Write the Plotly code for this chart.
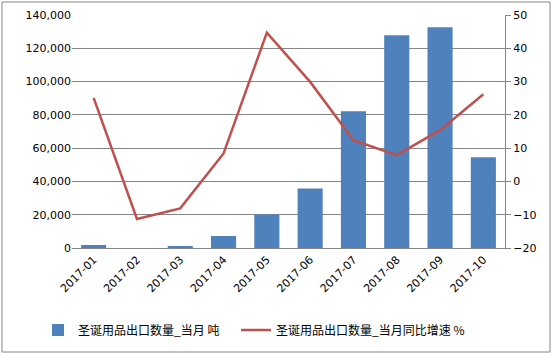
import plotly.graph_objects as go

months = ["2017-01", "2017-02", "2017-03", "2017-04", "2017-05",
          "2017-06", "2017-07", "2017-08", "2017-09", "2017-10"]
qty = [1800, 0, 1200, 7200, 20200, 35800, 82200, 127800, 132700, 54600]
growth = [25.1, -11.3, -8.1, 8.4, 44.7, 29.9, 12.4, 7.9, 15.4, 26.2]

left_ticks = [0, 20000, 40000, 60000, 80000, 100000, 120000, 140000]
right_ticks = [-20, -10, 0, 10, 20, 30, 40, 50]

bar_name = "圣诞用品出口数量_当月 吨"
line_name = "圣诞用品出口数量_当月同比增速 %"

font_family = "Noto Sans CJK SC, DejaVu Sans, sans-serif"
tick_font = "DejaVu Sans, sans-serif"

fig = go.Figure()
fig.add_trace(go.Bar(x=months, y=qty, name=bar_name, marker_color="#4F81BD",
                     marker_line_width=0, yaxis="y", legend="legend"))
fig.add_trace(go.Scatter(x=months, y=growth, name=line_name, mode="lines",
                         line=dict(color="#C0504D", width=2.5), yaxis="y2",
                         legend="legend2"))

legend_common = dict(orientation="h", xanchor="left", y=-0.352, yanchor="middle",
                     font=dict(size=12), itemwidth=30, bgcolor="rgba(0,0,0,0)")

fig.update_layout(
    width=552, height=354,
    margin=dict(l=72, r=47, t=15, b=106, autoexpand=False),
    paper_bgcolor="white", plot_bgcolor="white",
    font=dict(family=font_family, size=11, color="#000000"),
    bargap=0.42,
    showlegend=True,
    legend=dict(x=(38 - 72) / 433, **legend_common),
    legend2=dict(x=(236 - 72) / 433, **legend_common),
    xaxis=dict(type="category", tickangle=-45, showgrid=False, automargin=False,
               showline=True, linecolor="#868686", linewidth=1,
               ticks="", tickfont=dict(size=11, family=tick_font)),
    yaxis=dict(range=[0, 140000], tickvals=left_ticks, automargin=False,
               ticktext=[f"{v:,}" for v in left_ticks],
               showgrid=True, gridcolor="#868686", gridwidth=1,
               zeroline=False, showline=False, ticks="",
               tickfont=dict(size=11, family=tick_font)),
    yaxis2=dict(range=[-20, 50], tickvals=right_ticks, overlaying="y", side="right",
                automargin=False,
                showgrid=False, zeroline=False, showline=True, linecolor="#868686",
                ticks="outside", ticklen=5, tickcolor="#868686",
                tickfont=dict(size=11, family=tick_font)),
    shapes=[dict(type="rect", xref="paper", yref="paper",
                 x0=-70/433, x1=1 + 45/433, y0=-104/233, y1=1 + 13/233,
                 line=dict(color="#868686", width=1))],
)

fig.write_html("out.html")
